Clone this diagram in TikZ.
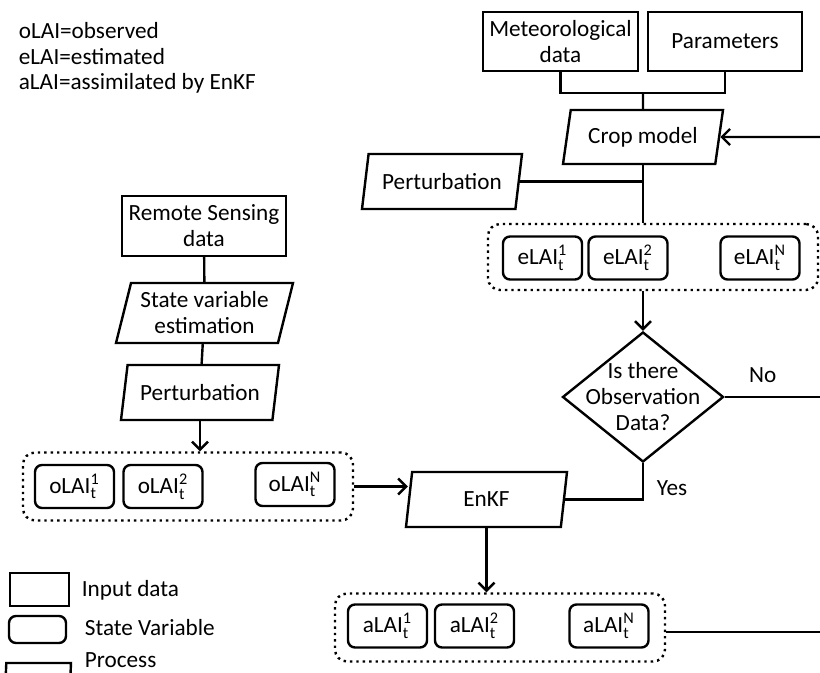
\documentclass[tikz,border=0pt]{standalone}
\usepackage{amsmath}
\usepackage{fontspec}
\setmainfont{Carlito}
\usepackage{tikz}
\usetikzlibrary{shapes.geometric,arrows.meta}

\newcommand{\lai}[2]{#1LAI$_{\text{t}}^{\text{#2}}$}

\begin{document}
\begin{tikzpicture}[x=0.5pt, y=-0.5pt, line width=1.2pt, >={Straight Barb[length=4pt,width=8pt]},
	font=\fontsize{11.6}{13}\selectfont,
	databox/.style={draw, rectangle, align=center, inner sep=1pt},
	statebox/.style={draw, rounded corners=3.5pt, minimum width=39.5pt, minimum height=21.5pt, inner sep=1pt},
	procbox/.style={draw, trapezium, trapezium left angle=72, trapezium right angle=108, trapezium stretches body, align=center, inner sep=1pt},
	groupbox/.style={draw, dotted, rounded corners=6pt, minimum width=165pt, minimum height=34pt},
	decide/.style={draw, diamond, minimum width=80.5pt, minimum height=65pt, inner sep=0pt}]
	\useasboundingbox (0,0) rectangle (820,673);

	\node[anchor=west] (k1) at (11,31) {oLAI=observed};
	\node[anchor=west] (k2) at (11,57) {eLAI=estimated};
	\node[anchor=west] (k3) at (11,83) {aLAI=assimilated by EnKF};

	\node[databox, minimum width=77.5pt, minimum height=29.5pt] (met) at (560.5,41.5) {Meteorological\\data};
	\node[databox, minimum width=77pt, minimum height=29.5pt] (par) at (725,41.5) {Parameters};
	\node[procbox, minimum width=80pt, minimum height=27pt] (crop) at (643,137) {Crop model};
	\node[procbox, minimum width=80pt, minimum height=27.5pt] (pertA) at (442,181.5) {Perturbation};
	\node[groupbox, minimum height=33pt] (eg) at (653,257) {};
	\node[statebox] (e1) at (542.5,258) {\lai{e}{1}};
	\node[statebox] (e2) at (628,258) {\lai{e}{2}};
	\node[statebox] (eN) at (760,258) {\lai{e}{N}};
	\node[decide, label={[align=center]center:Is there\\Observation\\Data?}] (obs) at (643,397) {};

	\node[databox, minimum width=82pt, minimum height=30pt] (rs) at (204,226) {Remote Sensing\\data};
	\node[procbox, minimum width=88.5pt, minimum height=30pt] (sv) at (204.5,313) {State variable\\estimation};
	\node[procbox, minimum width=79pt, minimum height=27.5pt] (pertB) at (200,392.5) {Perturbation};
	\node[groupbox] (og) at (188,486.5) {};
	\node[statebox] (o1) at (74.5,486.5) {\lai{o}{1}};
	\node[statebox] (o2) at (163,486.5) {\lai{o}{2}};
	\node[statebox] (oN) at (295,484.5) {\lai{o}{N}};

	\node[procbox, minimum width=80.5pt, minimum height=27.5pt] (enkf) at (486.5,499.5) {EnKF};
	\node[groupbox] (ag) at (500,627.5) {};
	\node[statebox] (a1) at (387.5,626) {\lai{a}{1}};
	\node[statebox] (a2) at (474.5,626) {\lai{a}{2}};
	\node[statebox] (aN) at (609,626) {\lai{a}{N}};

	\node[databox, minimum width=29.5pt, minimum height=16.5pt] (lin) at (39.5,589.5) {};
	\node[anchor=west] (lint) at (74,590) {Input data};
	\node[statebox, minimum width=28.5pt, minimum height=13.5pt] (lsv) at (37.5,629.5) {};
	\node[anchor=west] (lsvt) at (77,628) {State Variable};
	\node[procbox, minimum width=33pt, minimum height=15pt] (lpr) at (38,678) {};
	\node[anchor=west] (lprt) at (77,660) {Process};

	\coordinate (j1) at (643,93);
	\coordinate (loopin) at (820,137);
	\coordinate (noout) at (820,397);
	\coordinate (aout) at (820,632);

	\draw (met.south) |- (j1) -| (par.south);
	\draw (j1) -- (crop.north);
	\draw (crop.south) -- (crop.south |- eg.north);
	\draw (pertA.east) -- (pertA.east -| crop.south);
	\draw[->] (loopin) -- (crop.east);
	\draw[->] (obs.north |- eg.south) -- (obs.north);
	\draw (obs.east) -- node[above, pos=0.4, yshift=3pt] {No} (noout);
	\draw (obs.south) |- node[right, pos=0.35, xshift=3pt] {Yes} (enkf.east);

	\draw (rs) -- (sv);
	\draw (sv) -- (pertB);
	\draw[->] (pertB.south) -- (pertB.south |- og.north);
	\draw[->] (og.east) -- (og.east -| enkf.west);
	\draw[->] (enkf.south) -- (enkf.south |- ag.north);
	\draw (ag.east |- aout) -- (aout);
\end{tikzpicture}
\end{document}
